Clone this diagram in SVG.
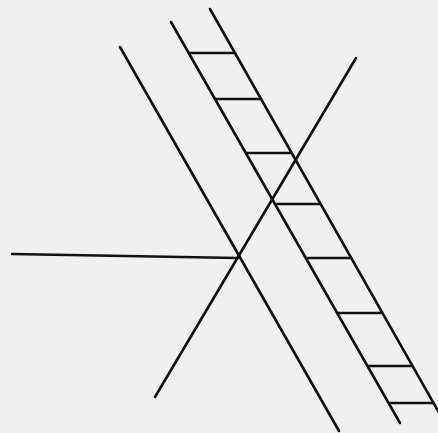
<svg xmlns="http://www.w3.org/2000/svg" width="438" height="433" viewBox="0 0 438 433">
<style>
line{stroke:#111;stroke-width:2.6;stroke-linecap:round}
</style>
<rect width="438" height="433" fill="#f0f0f0"/>
<g id="lines">
<line x1="120" y1="47" x2="339" y2="431"/>
<line x1="356" y1="58" x2="155" y2="397"/>
<line x1="12" y1="254" x2="238" y2="258"/>
</g>
<g id="ladder">
<line x1="171" y1="22" x2="400" y2="423"/>
<line x1="210" y1="9" x2="442" y2="418"/>
<line x1="189" y1="53" x2="235" y2="53"/>
<line x1="216" y1="99" x2="261" y2="99"/>
<line x1="247" y1="153" x2="290" y2="153"/>
<line x1="277" y1="204" x2="319" y2="204"/>
<line x1="308" y1="258" x2="350" y2="258"/>
<line x1="339" y1="313" x2="381" y2="313"/>
<line x1="369" y1="366" x2="411" y2="366"/>
<line x1="390" y1="403" x2="433" y2="403"/>
</g>
</svg>
